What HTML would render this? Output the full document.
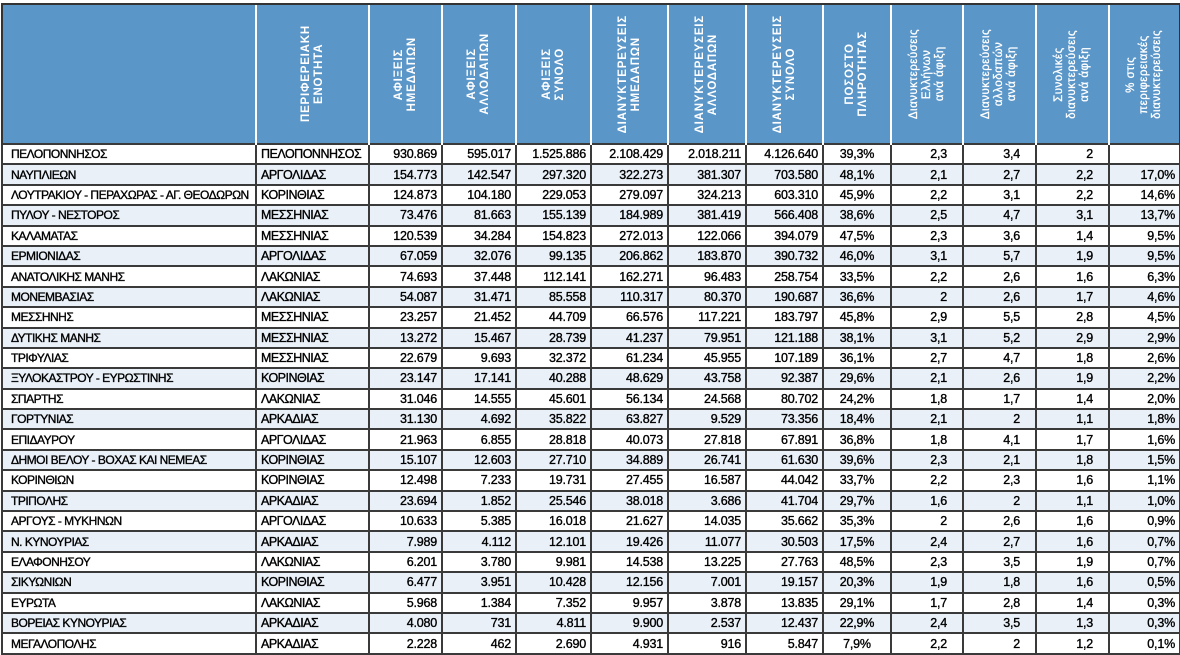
<!DOCTYPE html>
<html><head><meta charset="utf-8"><style>
html,body{margin:0;padding:0;background:#fff;width:1180px;height:652px;overflow:hidden}
table{position:absolute;left:1px;top:3px;width:1178px;border-collapse:collapse;table-layout:fixed;font-family:"Liberation Sans",sans-serif;font-size:12.5px;color:#000}
th{background:#5b96c8;height:138px;padding:0;border-left:2px solid #fff;border-top:2px solid #333;color:#fff;font-weight:bold;font-size:11.5px;letter-spacing:0.8px}
th:first-child{border-left:2px solid #333}
th:last-child{border-right:2px solid #333}
th div{writing-mode:vertical-rl;transform:rotate(180deg);margin:auto;text-align:center;line-height:13px}
th.n{font-weight:normal;letter-spacing:0.5px;font-size:11.5px;-webkit-text-stroke:0.3px #fff}
td{height:18.4px;border:2px solid #3a3a3a;padding:0 4px;white-space:nowrap;overflow:hidden;line-height:16px;-webkit-text-stroke:0.35px #000;letter-spacing:-0.2px}
tr:nth-child(odd) td{background:#e9f0f8}
td:nth-child(n+3){text-align:right}
td:nth-child(9){text-align:center}
td:nth-child(10),td:nth-child(11),td:nth-child(12){padding-right:15px}
td:first-child{padding-left:8px;font-size:12px;letter-spacing:-0.5px}
td:nth-child(2){letter-spacing:-0.5px}
</style></head><body>
<table>
<tr><th style="width:252px"></th><th style="width:111px"><div>ΠΕΡΙΦΕΡΕΙΑΚΗ<br>ΕΝΟΤΗΤΑ</div></th><th style="width:71px"><div>ΑΦΙΞΕΙΣ<br>ΗΜΕΔΑΠΩΝ</div></th><th style="width:72px"><div>ΑΦΙΞΕΙΣ<br>ΑΛΛΟΔΑΠΩΝ</div></th><th style="width:73px"><div>ΑΦΙΞΕΙΣ<br>ΣΥΝΟΛΟ</div></th><th style="width:75px"><div>ΔΙΑΝΥΚΤΕΡΕΥΣΕΙΣ<br>ΗΜΕΔΑΠΩΝ</div></th><th style="width:76px"><div>ΔΙΑΝΥΚΤΕΡΕΥΣΕΙΣ<br>ΑΛΛΟΔΑΠΩΝ</div></th><th style="width:75px"><div>ΔΙΑΝΥΚΤΕΡΕΥΣΕΙΣ<br>ΣΥΝΟΛΟ</div></th><th style="width:66px"><div>ΠΟΣΟΣΤΟ<br>ΠΛΗΡΟΤΗΤΑΣ</div></th><th class="n" style="width:70px"><div>Διανυκτερεύσεις<br>Ελλήνων<br>ανά άφιξη</div></th><th class="n" style="width:71px"><div>Διανυκτερεύσεις<br>αλλοδαπών<br>ανά άφιξη</div></th><th class="n" style="width:71px"><div>Συνολικές<br>διανυκτερεύσεις<br>ανά άφιξη</div></th><th class="n" style="width:69px"><div>% στις<br>περιφερειακές<br>διανυκτερεύσεις</div></th></tr>
<tr><td>ΠΕΛΟΠΟΝΝΗΣΟΣ</td><td>ΠΕΛΟΠΟΝΝΗΣΟΣ</td><td>930.869</td><td>595.017</td><td>1.525.886</td><td>2.108.429</td><td>2.018.211</td><td>4.126.640</td><td>39,3%</td><td>2,3</td><td>3,4</td><td>2</td><td></td></tr>
<tr><td>ΝΑΥΠΛΙΕΩΝ</td><td>ΑΡΓΟΛΙΔΑΣ</td><td>154.773</td><td>142.547</td><td>297.320</td><td>322.273</td><td>381.307</td><td>703.580</td><td>48,1%</td><td>2,1</td><td>2,7</td><td>2,2</td><td>17,0%</td></tr>
<tr><td>ΛΟΥΤΡΑΚΙΟΥ - ΠΕΡΑΧΩΡΑΣ - ΑΓ. ΘΕΟΔΩΡΩΝ</td><td>ΚΟΡΙΝΘΙΑΣ</td><td>124.873</td><td>104.180</td><td>229.053</td><td>279.097</td><td>324.213</td><td>603.310</td><td>45,9%</td><td>2,2</td><td>3,1</td><td>2,2</td><td>14,6%</td></tr>
<tr><td>ΠΥΛΟΥ - ΝΕΣΤΟΡΟΣ</td><td>ΜΕΣΣΗΝΙΑΣ</td><td>73.476</td><td>81.663</td><td>155.139</td><td>184.989</td><td>381.419</td><td>566.408</td><td>38,6%</td><td>2,5</td><td>4,7</td><td>3,1</td><td>13,7%</td></tr>
<tr><td>ΚΑΛΑΜΑΤΑΣ</td><td>ΜΕΣΣΗΝΙΑΣ</td><td>120.539</td><td>34.284</td><td>154.823</td><td>272.013</td><td>122.066</td><td>394.079</td><td>47,5%</td><td>2,3</td><td>3,6</td><td>1,4</td><td>9,5%</td></tr>
<tr><td>ΕΡΜΙΟΝΙΔΑΣ</td><td>ΑΡΓΟΛΙΔΑΣ</td><td>67.059</td><td>32.076</td><td>99.135</td><td>206.862</td><td>183.870</td><td>390.732</td><td>46,0%</td><td>3,1</td><td>5,7</td><td>1,9</td><td>9,5%</td></tr>
<tr><td>ΑΝΑΤΟΛΙΚΗΣ ΜΑΝΗΣ</td><td>ΛΑΚΩΝΙΑΣ</td><td>74.693</td><td>37.448</td><td>112.141</td><td>162.271</td><td>96.483</td><td>258.754</td><td>33,5%</td><td>2,2</td><td>2,6</td><td>1,6</td><td>6,3%</td></tr>
<tr><td>ΜΟΝΕΜΒΑΣΙΑΣ</td><td>ΛΑΚΩΝΙΑΣ</td><td>54.087</td><td>31.471</td><td>85.558</td><td>110.317</td><td>80.370</td><td>190.687</td><td>36,6%</td><td>2</td><td>2,6</td><td>1,7</td><td>4,6%</td></tr>
<tr><td>ΜΕΣΣΗΝΗΣ</td><td>ΜΕΣΣΗΝΙΑΣ</td><td>23.257</td><td>21.452</td><td>44.709</td><td>66.576</td><td>117.221</td><td>183.797</td><td>45,8%</td><td>2,9</td><td>5,5</td><td>2,8</td><td>4,5%</td></tr>
<tr><td>ΔΥΤΙΚΗΣ ΜΑΝΗΣ</td><td>ΜΕΣΣΗΝΙΑΣ</td><td>13.272</td><td>15.467</td><td>28.739</td><td>41.237</td><td>79.951</td><td>121.188</td><td>38,1%</td><td>3,1</td><td>5,2</td><td>2,9</td><td>2,9%</td></tr>
<tr><td>ΤΡΙΦΥΛΙΑΣ</td><td>ΜΕΣΣΗΝΙΑΣ</td><td>22.679</td><td>9.693</td><td>32.372</td><td>61.234</td><td>45.955</td><td>107.189</td><td>36,1%</td><td>2,7</td><td>4,7</td><td>1,8</td><td>2,6%</td></tr>
<tr><td>ΞΥΛΟΚΑΣΤΡΟΥ - ΕΥΡΩΣΤΙΝΗΣ</td><td>ΚΟΡΙΝΘΙΑΣ</td><td>23.147</td><td>17.141</td><td>40.288</td><td>48.629</td><td>43.758</td><td>92.387</td><td>29,6%</td><td>2,1</td><td>2,6</td><td>1,9</td><td>2,2%</td></tr>
<tr><td>ΣΠΑΡΤΗΣ</td><td>ΛΑΚΩΝΙΑΣ</td><td>31.046</td><td>14.555</td><td>45.601</td><td>56.134</td><td>24.568</td><td>80.702</td><td>24,2%</td><td>1,8</td><td>1,7</td><td>1,4</td><td>2,0%</td></tr>
<tr><td>ΓΟΡΤΥΝΙΑΣ</td><td>ΑΡΚΑΔΙΑΣ</td><td>31.130</td><td>4.692</td><td>35.822</td><td>63.827</td><td>9.529</td><td>73.356</td><td>18,4%</td><td>2,1</td><td>2</td><td>1,1</td><td>1,8%</td></tr>
<tr><td>ΕΠΙΔΑΥΡΟΥ</td><td>ΑΡΓΟΛΙΔΑΣ</td><td>21.963</td><td>6.855</td><td>28.818</td><td>40.073</td><td>27.818</td><td>67.891</td><td>36,8%</td><td>1,8</td><td>4,1</td><td>1,7</td><td>1,6%</td></tr>
<tr><td>ΔΗΜΟΙ ΒΕΛΟΥ - ΒΟΧΑΣ ΚΑΙ ΝΕΜΕΑΣ</td><td>ΚΟΡΙΝΘΙΑΣ</td><td>15.107</td><td>12.603</td><td>27.710</td><td>34.889</td><td>26.741</td><td>61.630</td><td>39,6%</td><td>2,3</td><td>2,1</td><td>1,8</td><td>1,5%</td></tr>
<tr><td>ΚΟΡΙΝΘΙΩΝ</td><td>ΚΟΡΙΝΘΙΑΣ</td><td>12.498</td><td>7.233</td><td>19.731</td><td>27.455</td><td>16.587</td><td>44.042</td><td>33,7%</td><td>2,2</td><td>2,3</td><td>1,6</td><td>1,1%</td></tr>
<tr><td>ΤΡΙΠΟΛΗΣ</td><td>ΑΡΚΑΔΙΑΣ</td><td>23.694</td><td>1.852</td><td>25.546</td><td>38.018</td><td>3.686</td><td>41.704</td><td>29,7%</td><td>1,6</td><td>2</td><td>1,1</td><td>1,0%</td></tr>
<tr><td>ΑΡΓΟΥΣ - ΜΥΚΗΝΩΝ</td><td>ΑΡΓΟΛΙΔΑΣ</td><td>10.633</td><td>5.385</td><td>16.018</td><td>21.627</td><td>14.035</td><td>35.662</td><td>35,3%</td><td>2</td><td>2,6</td><td>1,6</td><td>0,9%</td></tr>
<tr><td>Ν. ΚΥΝΟΥΡΙΑΣ</td><td>ΑΡΚΑΔΙΑΣ</td><td>7.989</td><td>4.112</td><td>12.101</td><td>19.426</td><td>11.077</td><td>30.503</td><td>17,5%</td><td>2,4</td><td>2,7</td><td>1,6</td><td>0,7%</td></tr>
<tr><td>ΕΛΑΦΟΝΗΣΟΥ</td><td>ΛΑΚΩΝΙΑΣ</td><td>6.201</td><td>3.780</td><td>9.981</td><td>14.538</td><td>13.225</td><td>27.763</td><td>48,5%</td><td>2,3</td><td>3,5</td><td>1,9</td><td>0,7%</td></tr>
<tr><td>ΣΙΚΥΩΝΙΩΝ</td><td>ΚΟΡΙΝΘΙΑΣ</td><td>6.477</td><td>3.951</td><td>10.428</td><td>12.156</td><td>7.001</td><td>19.157</td><td>20,3%</td><td>1,9</td><td>1,8</td><td>1,6</td><td>0,5%</td></tr>
<tr><td>ΕΥΡΩΤΑ</td><td>ΛΑΚΩΝΙΑΣ</td><td>5.968</td><td>1.384</td><td>7.352</td><td>9.957</td><td>3.878</td><td>13.835</td><td>29,1%</td><td>1,7</td><td>2,8</td><td>1,4</td><td>0,3%</td></tr>
<tr><td>ΒΟΡΕΙΑΣ ΚΥΝΟΥΡΙΑΣ</td><td>ΑΡΚΑΔΙΑΣ</td><td>4.080</td><td>731</td><td>4.811</td><td>9.900</td><td>2.537</td><td>12.437</td><td>22,9%</td><td>2,4</td><td>3,5</td><td>1,3</td><td>0,3%</td></tr>
<tr><td>ΜΕΓΑΛΟΠΟΛΗΣ</td><td>ΑΡΚΑΔΙΑΣ</td><td>2.228</td><td>462</td><td>2.690</td><td>4.931</td><td>916</td><td>5.847</td><td>7,9%</td><td>2,2</td><td>2</td><td>1,2</td><td>0,1%</td></tr>
</table>
</body></html>
